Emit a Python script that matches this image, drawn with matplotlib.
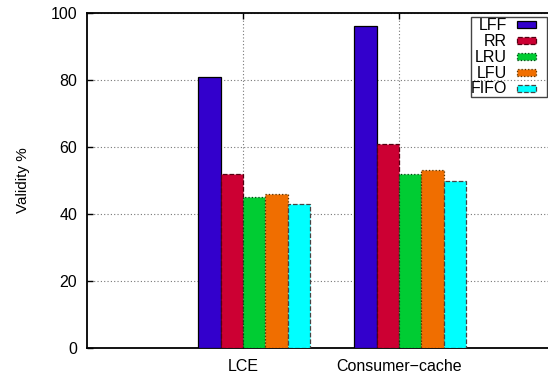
import numpy as np
import matplotlib.pyplot as plt
from matplotlib.patches import Rectangle

# datos
grupos = ['LCE', 'Consumer\u2212cache']
politicas = ['LFF', 'RR', 'LRU', 'LFU', 'FIFO']
lff = [81, 96]
rr = [52, 61]
lru = [45, 52]
lfu = [46, 53]
fifo = [43, 50]
series = [lff, rr, lru, lfu, fifo]

colores = ['#3300cc', '#cc0033', '#00cc33', '#f06e00', '#00ffff']
bordes = ['#000000', '#550011', '#004411', '#553300', '#444444']
estilos = ['-', '--', ':', ':', '--']

plt.rcParams['font.family'] = ['Liberation Sans', 'DejaVu Sans']
plt.rcParams['font.size'] = 11.5

W, H = 548, 374
fig = plt.figure(figsize=(W/100, H/100), dpi=100)
# el borde derecho queda fuera de la imagen (como en el original)
ax = fig.add_axes([87/W, 1-348/H, (555-87)/W, (348-13)/H])

x = np.arange(len(grupos))
w = 1/7.0
for j in range(len(politicas)):
  ax.bar(x + (j-1.5)*w, series[j], width=w, color=colores[j],
         edgecolor=bordes[j], linestyle=estilos[j], linewidth=0.9,
         label=politicas[j], zorder=3)

ax.set_xlim(-1, 2)
ax.set_ylim(0, 100)
ax.set_xticks(x)
ax.set_xticklabels(grupos)
ax.set_yticks(np.arange(0, 101, 20))
ax.tick_params(direction='in', length=4, width=1, top=True, right=True)
ax.tick_params(axis='y', pad=7)
ax.tick_params(axis='x', pad=8)
ax.set_ylabel('Validity %', labelpad=15, fontsize=11)
ax.grid(True, linestyle=(0, (1, 2)), color='#777777', linewidth=0.8, zorder=0)
for s in ax.spines.values():
  s.set_linewidth(1.3)

# leyenda al estilo gnuplot: texto alineado a la derecha
tf = fig.transFigure
fig.patches.append(Rectangle((471/W, 1-97/H), (547-471)/W, (97-17)/H,
                             transform=tf, fill=False, edgecolor='#444444',
                             linewidth=1.0, zorder=5))
for j in range(len(politicas)):
  yc = 24.5 + j*15.9
  fig.text(507/W, 1-(yc+0.8)/H, politicas[j], ha='right', va='center',
           fontsize=11.5)
  fig.patches.append(Rectangle((517/W, 1-(yc+3.5)/H), 19/W, 7/H, transform=tf,
                               facecolor=colores[j], edgecolor=bordes[j],
                               linestyle=estilos[j], linewidth=0.9))

fig.savefig('out.png', dpi=100)
